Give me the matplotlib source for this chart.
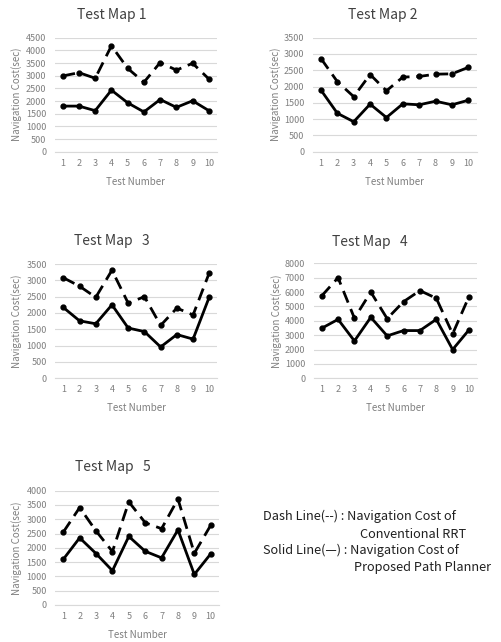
import numpy as np
import matplotlib.pyplot as plt

plt.rcParams['font.family'] = ['Noto Sans CJK KR', 'DejaVu Sans']

# data
tests = list(range(1, 11))
titles = ['Test Map 1', 'Test Map 2', 'Test Map   3', 'Test Map   4', 'Test Map   5']
rrt_cost = [
    [2990, 3120, 2900, 4180, 3290, 2740, 3520, 3220, 3490, 2870],
    [2860, 2150, 1690, 2370, 1870, 2290, 2310, 2380, 2390, 2590],
    [3080, 2820, 2480, 3310, 2300, 2500, 1620, 2150, 1940, 3230],
    [5730, 7000, 4180, 6000, 4150, 5330, 6100, 5570, 3090, 5690],
    [2550, 3410, 2590, 1870, 3610, 2880, 2670, 3710, 1810, 2790],
]
planner_cost = [
    [1800, 1800, 1620, 2430, 1930, 1570, 2060, 1750, 2010, 1620],
    [1890, 1180, 920, 1460, 1050, 1470, 1440, 1550, 1440, 1580],
    [2170, 1760, 1670, 2250, 1540, 1430, 960, 1340, 1200, 2490],
    [3480, 4100, 2600, 4240, 2950, 3320, 3320, 4100, 2000, 3370],
    [1600, 2350, 1800, 1200, 2400, 1880, 1650, 2630, 1070, 1790],
]
y_max = [4500, 3500, 3500, 8000, 4000]
y_step = [500, 500, 500, 1000, 500]

W, H = 501, 642
fig = plt.figure(figsize=(W / 100, H / 100), dpi=100)

# axes boxes in pixels: left, right, top, bottom
boxes = [
    (54.6, 217.0, 37.7, 151.7),
    (312.8, 476.5, 37.7, 151.7),
    (55.2, 217.4, 264.0, 378.3),
    (313.5, 477.2, 263.3, 378.3),
    (55.1, 218.9, 490.7, 605.0),
]
title_pos = [(111.7, 15), (383, 15), (111.7, 240.7), (370, 241.7), (112.5, 467)]
ylabel_x = [16.7, 276, 16.7, 276.7, 16.7]

grid_c = '#d9d9d9'
text_c = '#7f7f7f'

for i in range(5):
    l, r, t, b = boxes[i]
    ax = fig.add_axes([l / W, 1 - b / H, (r - l) / W, (b - t) / H])
    ax.plot(tests, rrt_cost[i], color='black', lw=2.0, ls=(0, (4.5, 2.5)),
            marker='o', ms=3.5)
    ax.plot(tests, planner_cost[i], color='black', lw=2.0, marker='o', ms=3.5)
    ax.set_xlim(0.5, 10.5)
    ax.set_ylim(0, y_max[i])
    ax.set_yticks(np.arange(0, y_max[i] + 1, y_step[i]))
    ax.set_xticks(tests)
    ax.grid(axis='y', color=grid_c, lw=0.8)
    ax.set_axisbelow(True)
    for s in ['top', 'right', 'left']:
        ax.spines[s].set_visible(False)
    ax.spines['bottom'].set_color(grid_c)
    ax.spines['bottom'].set_linewidth(0.8)
    ax.tick_params(length=0, labelsize=6.5, labelcolor=text_c)
    ax.tick_params(axis='y', pad=6)
    ax.tick_params(axis='x', pad=5)
    # axis titles placed by hand
    fig.text(ylabel_x[i] / W, 1 - (t + b) / 2 / H, 'Navigation Cost(sec)',
             fontsize=7, color=text_c, rotation=90, ha='center', va='center')
    fig.text((l + r) / 2 / W, 1 - (b + 30) / H, 'Test Number',
             fontsize=7, color=text_c, ha='center', va='center')
    tx, ty = title_pos[i]
    fig.text(tx / W, 1 - ty / H, titles[i], fontsize=10, color='#404040',
             ha='center', va='center')

# legend text
leg = dict(fontsize=9.2, color='#202020', va='center', ha='left')
fig.text(262.7 / W, 1 - 516.7 / H, 'Dash Line(--) : Navigation Cost of', **leg)
fig.text(360 / W, 1 - 534.3 / H, 'Conventional RRT', **leg)
fig.text(262.7 / W, 1 - 550.7 / H, 'Solid Line(\u2014) : Navigation Cost of', **leg)
fig.text(354 / W, 1 - 567.7 / H, 'Proposed Path Planner', **leg)

fig.savefig('out.png', dpi=100)
